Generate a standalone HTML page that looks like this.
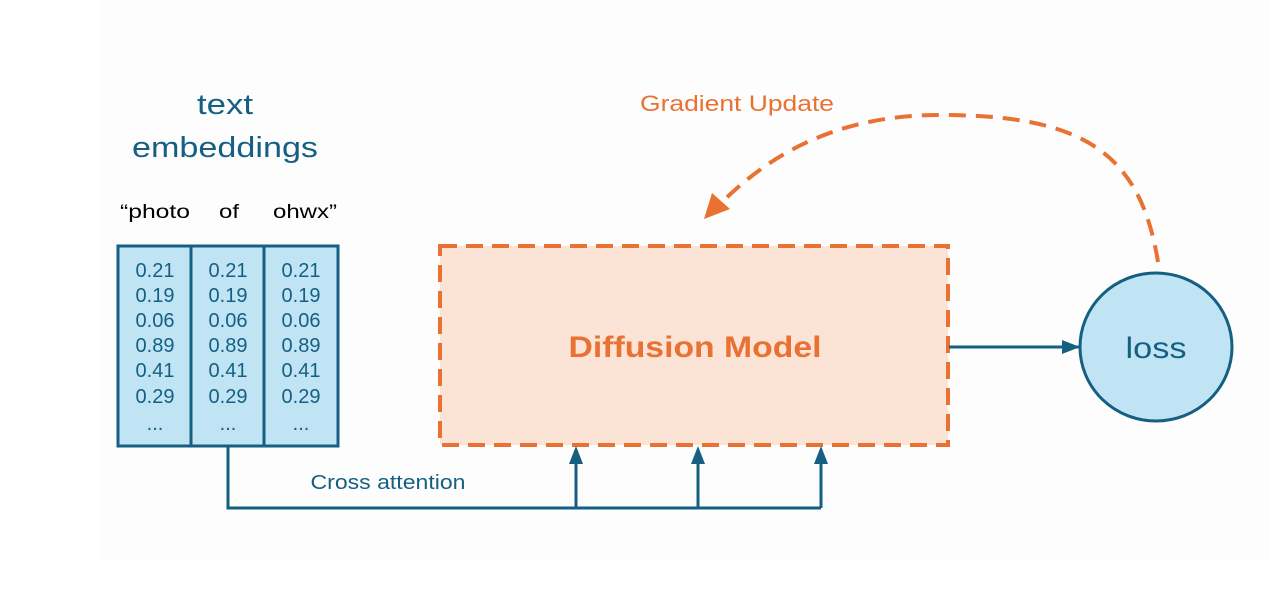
<!DOCTYPE html>
<html><head><style>
html,body{margin:0;padding:0;background:#fff;}
svg{display:block;font-family:"Liberation Sans",sans-serif;}
</style></head><body>
<svg width="1287" height="595" viewBox="0 0 1287 595" xmlns="http://www.w3.org/2000/svg">
<rect x="0" y="0" width="1287" height="595" fill="#ffffff"/>
<rect x="100" y="0" width="1170" height="560" fill="#fdfdfd"/>
<text x="225" y="114" font-size="29" fill="#156082" text-anchor="middle" textLength="56" lengthAdjust="spacingAndGlyphs">text</text>
<text x="225" y="157" font-size="29" fill="#156082" text-anchor="middle" textLength="186" lengthAdjust="spacingAndGlyphs">embeddings</text>
<text x="155" y="218" font-size="19" fill="#000" text-anchor="middle" textLength="70" lengthAdjust="spacingAndGlyphs">“photo</text>
<text x="229" y="218" font-size="19" fill="#000" text-anchor="middle" textLength="20" lengthAdjust="spacingAndGlyphs">of</text>
<text x="305" y="218" font-size="19" fill="#000" text-anchor="middle" textLength="64" lengthAdjust="spacingAndGlyphs">ohwx”</text>
<rect x="118" y="246" width="220" height="200" fill="#c1e4f5" stroke="#156082" stroke-width="3"/>
<line x1="191" y1="246" x2="191" y2="446" stroke="#156082" stroke-width="3"/>
<line x1="264" y1="246" x2="264" y2="446" stroke="#156082" stroke-width="3"/>
<g font-size="20" fill="#156082" text-anchor="middle">
<text x="155" y="277">0.21</text><text x="228" y="277">0.21</text><text x="301" y="277">0.21</text>
<text x="155" y="302">0.19</text><text x="228" y="302">0.19</text><text x="301" y="302">0.19</text>
<text x="155" y="327">0.06</text><text x="228" y="327">0.06</text><text x="301" y="327">0.06</text>
<text x="155" y="352">0.89</text><text x="228" y="352">0.89</text><text x="301" y="352">0.89</text>
<text x="155" y="377">0.41</text><text x="228" y="377">0.41</text><text x="301" y="377">0.41</text>
<text x="155" y="403">0.29</text><text x="228" y="403">0.29</text><text x="301" y="403">0.29</text>
<text x="155" y="430">...</text><text x="228" y="430">...</text><text x="301" y="430">...</text>
</g>
<rect x="440" y="246" width="508" height="199" fill="#fbe3d6" stroke="#e97132" stroke-width="4" stroke-dasharray="17,9"/>
<text x="695" y="357" font-size="30" font-weight="bold" fill="#e97132" text-anchor="middle" textLength="253" lengthAdjust="spacingAndGlyphs">Diffusion Model</text>
<ellipse cx="1156" cy="347" rx="76" ry="74" fill="#c1e4f5" stroke="#156082" stroke-width="3"/>
<text x="1156" y="358" font-size="30" fill="#156082" text-anchor="middle" textLength="61" lengthAdjust="spacingAndGlyphs">loss</text>
<line x1="949" y1="347" x2="1080" y2="347" stroke="#156082" stroke-width="3"/>
<path d="M1062,340 L1080,347 L1062,354 z" fill="#156082"/>
<polyline points="228,446 228,508 821,508" fill="none" stroke="#156082" stroke-width="3"/>
<line x1="576" y1="508" x2="576" y2="460" stroke="#156082" stroke-width="3"/>
<line x1="698" y1="508" x2="698" y2="460" stroke="#156082" stroke-width="3"/>
<line x1="821" y1="508" x2="821" y2="460" stroke="#156082" stroke-width="3"/>
<path d="M569,464 L576,446 L583,464 z" fill="#156082"/>
<path d="M691,464 L698,446 L705,464 z" fill="#156082"/>
<path d="M814,464 L821,446 L828,464 z" fill="#156082"/>
<text x="388" y="489" font-size="20" fill="#156082" text-anchor="middle" textLength="155" lengthAdjust="spacingAndGlyphs">Cross attention</text>
<text x="737" y="111" font-size="22" fill="#e97132" text-anchor="middle" textLength="194" lengthAdjust="spacingAndGlyphs">Gradient Update</text>
<path d="M1158,262 C1140,150 1080,115 940,115 C830,115 765,160 722,202" fill="none" stroke="#e97132" stroke-width="4" stroke-dasharray="17,10"/>
<path d="M704,219 L712,193 L730,209 z" fill="#e97132"/>
</svg>
</body></html>
